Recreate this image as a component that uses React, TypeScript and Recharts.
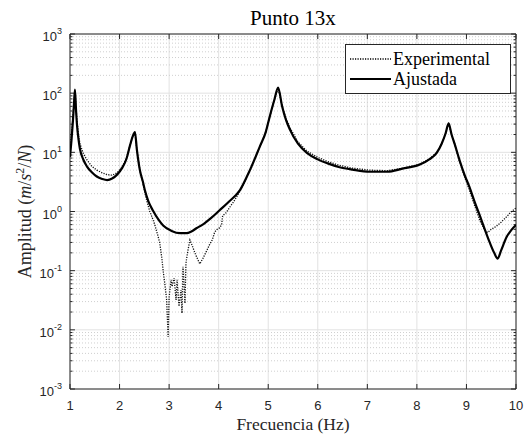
import React from 'react';
import { LineChart, Line, XAxis, YAxis, CartesianGrid, ReferenceLine, ReferenceArea, Legend, Label } from 'recharts';

// --- axes ---
const FREQ_TICKS = [1, 2, 3, 4, 5, 6, 7, 8, 9, 10];
const AMP_TICKS = [0.001, 0.01, 0.1, 1, 10, 100, 1000];

// --- fitted curve (Ajustada) ---
const ajFreq = [
  1.0, 1.03, 1.06, 1.08, 1.1, 1.12, 1.14, 1.17, 1.2, 1.27, 1.34, 1.44, 1.54, 1.65, 1.75, 1.85, 1.95, 2.05,
  2.14, 2.21, 2.26, 2.31, 2.35, 2.41, 2.47, 2.51, 2.58, 2.67, 2.8, 2.88, 3.05, 3.22, 3.35, 3.45, 3.55, 3.7,
  3.85, 4.02, 4.2, 4.43, 4.63, 4.83, 4.95, 5.03, 5.12, 5.2, 5.28, 5.36, 5.44, 5.6, 5.78, 6.0, 6.2, 6.44, 6.7,
  7.05, 7.4, 7.71, 8.06, 8.25, 8.4, 8.5, 8.58, 8.64, 8.7, 8.76, 8.86, 8.96, 9.06, 9.16, 9.27, 9.37, 9.47,
  9.56, 9.63, 9.7, 9.81, 9.9, 10.0,
];
const ajAmp = [
  8.3, 16, 35, 65, 115, 55, 30, 17, 11.5, 7.5, 5.8, 4.6, 3.9, 3.55, 3.4, 3.6, 4.2, 5.4,
  7.8, 13, 18, 22, 11, 5, 3.2, 2.3, 1.5, 1.05, 0.7, 0.58, 0.47, 0.43, 0.43, 0.46, 0.52, 0.62,
  0.78, 1.05, 1.45, 2.3, 5, 12.5, 22, 40, 75, 124, 60, 35, 24, 14, 9.8, 7.6, 6.5, 5.6, 5.1,
  4.7, 4.7, 5.3, 6.2, 7.6, 9.8, 14, 21, 31, 20, 14, 7.4, 4.2, 2.6, 1.5, 0.85, 0.5, 0.3,
  0.2, 0.16, 0.22, 0.37, 0.48, 0.59,
];

// --- measured curve (Experimental) ---
const exFreq = [
  1.0, 1.03, 1.06, 1.08, 1.1, 1.12, 1.14, 1.17, 1.2, 1.27, 1.34, 1.44, 1.54, 1.65, 1.75, 1.85, 1.95, 2.05,
  2.14, 2.21, 2.26, 2.31, 2.35, 2.41, 2.47, 2.51, 2.56, 2.61, 2.67, 2.71, 2.77, 2.81, 2.85, 2.88, 2.92, 2.95,
  2.98, 3.0, 3.02, 3.04, 3.06, 3.1, 3.14, 3.16, 3.2, 3.24, 3.26, 3.28, 3.32, 3.34, 3.38, 3.42, 3.47, 3.52,
  3.57, 3.62, 3.68, 3.75, 3.82, 3.87, 3.92, 3.97, 4.02, 4.06, 4.08, 4.15, 4.23, 4.3, 4.43, 4.63, 4.83, 4.95,
  5.03, 5.12, 5.2, 5.28, 5.36, 5.44, 5.6, 5.78, 6.0, 6.2, 6.44, 6.7, 7.05, 7.4, 7.71, 8.06, 8.25, 8.4, 8.5,
  8.58, 8.64, 8.7, 8.76, 8.86, 8.96, 9.06, 9.16, 9.27, 9.37, 9.43, 9.5, 9.6, 9.7, 9.8, 9.9, 10.0,
];
const exAmp = [
  12, 20, 40, 70, 105, 60, 35, 20, 14, 9.5, 7.5, 5.8, 5.0, 4.5, 4.2, 4.1, 4.5, 5.6,
  8, 13, 18, 21, 11, 5, 3, 2.1, 1.4, 1.0, 0.75, 0.6, 0.4, 0.3, 0.17, 0.1, 0.054, 0.032,
  0.0076, 0.035, 0.05, 0.07, 0.054, 0.075, 0.032, 0.07, 0.025, 0.047, 0.019, 0.116, 0.028, 0.135, 0.22, 0.33, 0.26, 0.2,
  0.16, 0.13, 0.16, 0.21, 0.28, 0.33, 0.45, 0.5, 0.53, 0.6, 0.85, 0.95, 1.2, 1.45, 2.2, 4.8, 12.5, 22,
  40, 75, 120, 62, 37, 26, 15, 10.5, 8.2, 7, 6, 5.4, 5, 4.9, 5.4, 6.3, 7.7, 10, 14,
  21, 30, 20, 14, 7, 3.9, 2.3, 1.3, 0.7, 0.48, 0.44, 0.5, 0.56, 0.66, 0.8, 0.98, 1.15,
];

const ajustada = ajFreq.map((f, i) => ({ f, a: ajAmp[i] }));
const experimental = exFreq.map((f, i) => ({ f, a: exAmp[i] }));

// minor decades for the log grid / ticks
const minorAmp = AMP_TICKS.slice(0, -1).flatMap((d) =>
  [2, 3, 4, 5, 6, 7, 8, 9].map((k) => Number((k * d).toPrecision(2)))
);

const AXIS = '#262626';
const SERIF = '"Liberation Serif", "Times New Roman", serif';
const SANS = '"Liberation Sans", Arial, sans-serif';

function PowerTick({ x, y, payload }: any) {
  const exp = Math.round(Math.log10(payload.value));
  return (
    <text x={x} y={y + 7} textAnchor="end" fill={AXIS} fontSize={13} fontFamily={SANS}>
      10
      <tspan dy={-7} fontSize={9}>{exp}</tspan>
    </text>
  );
}

function AmpLabel({ viewBox }: any) {
  const cx = viewBox.x + 31;
  const cy = viewBox.y + viewBox.height / 2;
  return (
    <text transform={`translate(${cx}, ${cy}) rotate(-90)`} textAnchor="middle" fill={AXIS} fontSize={18} fontFamily={SERIF}>
      Amplitud (<tspan fontStyle="italic">m</tspan>/<tspan fontStyle="italic">s</tspan>
      <tspan dy={-7} fontSize={12}>2</tspan>
      <tspan dy={7}>/</tspan>
      <tspan fontStyle="italic">N</tspan>)
    </text>
  );
}

function FreqLabel({ viewBox }: any) {
  return (
    <text x={viewBox.x + viewBox.width / 2} y={viewBox.y + 41} textAnchor="middle" fill={AXIS} fontSize={17.5} fontFamily={SERIF}>
      Frecuencia (Hz)
    </text>
  );
}

function LegendBox() {
  const rows = [
    { name: 'Experimental', dash: '1.2 1.3', width: 1.3 },
    { name: 'Ajustada', dash: undefined, width: 2.2 },
  ];
  return (
    <div style={{ border: `1px solid ${AXIS}`, background: '#fff', padding: 4, width: 156 }}>
      {rows.map((r) => (
        <div key={r.name} style={{ display: 'flex', alignItems: 'center', height: 20 }}>
          <svg width={41} height={10} style={{ marginRight: 2 }}>
            <line x1={0} y1={5} x2={41} y2={5} stroke="#000" strokeWidth={r.width} strokeDasharray={r.dash} />
          </svg>
          <span style={{ fontFamily: SERIF, fontSize: 18, color: '#000', lineHeight: '20px' }}>{r.name}</span>
        </div>
      ))}
    </div>
  );
}

export default function App() {
  const hTick = 0.1; // tick length along frequency
  const vTick = 1.215; // tick length along log amplitude (factor)
  return (
    <div style={{ position: 'absolute', left: 0, top: 0, width: 525, height: 434, background: '#fff' }}>
      <div style={{ position: 'absolute', left: 70, width: 446, top: 6, textAlign: 'center', fontFamily: SERIF, fontSize: 21, color: '#000' }}>
        Punto 13x
      </div>
      <LineChart width={525} height={434} margin={{ top: 34, right: 9, bottom: 0, left: 0 }}>
        <CartesianGrid stroke="#e2e2e2" strokeWidth={1} />
        {minorAmp.map((v) => (
          <ReferenceLine key={`g${v}`} y={v} stroke="#cfcfcf" strokeDasharray="1 2" />
        ))}
        <XAxis
          type="number"
          dataKey="f"
          domain={[1, 10]}
          ticks={FREQ_TICKS}
          allowDataOverflow
          height={45}
          tickSize={0}
          tickMargin={12}
          axisLine={false}
          tick={{ fill: AXIS, fontSize: 13, fontFamily: SANS }}
        >
          <Label content={FreqLabel} />
        </XAxis>
        <YAxis
          type="number"
          scale="log"
          domain={[0.001, 1000]}
          ticks={AMP_TICKS}
          allowDataOverflow
          width={70}
          tickSize={0}
          tickMargin={8}
          axisLine={false}
          tick={PowerTick}
        >
          <Label content={AmpLabel} />
        </YAxis>
        {/* inward ticks, MATLAB style */}
        {AMP_TICKS.map((v) => (
          <ReferenceLine key={`tl${v}`} segment={[{ x: 1, y: v }, { x: 1 + hTick, y: v }]} stroke={AXIS} />
        ))}
        {AMP_TICKS.map((v) => (
          <ReferenceLine key={`tr${v}`} segment={[{ x: 10 - hTick, y: v }, { x: 10, y: v }]} stroke={AXIS} />
        ))}
        {minorAmp.map((v) => (
          <ReferenceLine key={`ml${v}`} segment={[{ x: 1, y: v }, { x: 1 + hTick / 2, y: v }]} stroke={AXIS} />
        ))}
        {minorAmp.map((v) => (
          <ReferenceLine key={`mr${v}`} segment={[{ x: 10 - hTick / 2, y: v }, { x: 10, y: v }]} stroke={AXIS} />
        ))}
        {FREQ_TICKS.map((f) => (
          <ReferenceLine key={`tb${f}`} segment={[{ x: f, y: 0.001 }, { x: f, y: 0.001 * vTick }]} stroke={AXIS} />
        ))}
        {FREQ_TICKS.map((f) => (
          <ReferenceLine key={`tt${f}`} segment={[{ x: f, y: 1000 / vTick }, { x: f, y: 1000 }]} stroke={AXIS} />
        ))}
        <ReferenceArea x1={1} x2={10} y1={0.001} y2={1000} fill="none" fillOpacity={0} stroke={AXIS} strokeWidth={1} />
        <Line
          data={experimental}
          dataKey="a"
          name="Experimental"
          type="linear"
          stroke="#111"
          strokeWidth={1.3}
          strokeDasharray="1.2 1.3"
          dot={false}
          isAnimationActive={false}
        />
        <Line
          data={ajustada}
          dataKey="a"
          name="Ajustada"
          type="monotone"
          stroke="#000"
          strokeWidth={2.2}
          dot={false}
          isAnimationActive={false}
        />
        <Legend
          layout="horizontal"
          verticalAlign="middle"
          align="center"
          content={LegendBox}
          wrapperStyle={{ top: 44, left: 345, width: 164, height: 53 }}
        />
      </LineChart>
    </div>
  );
}
